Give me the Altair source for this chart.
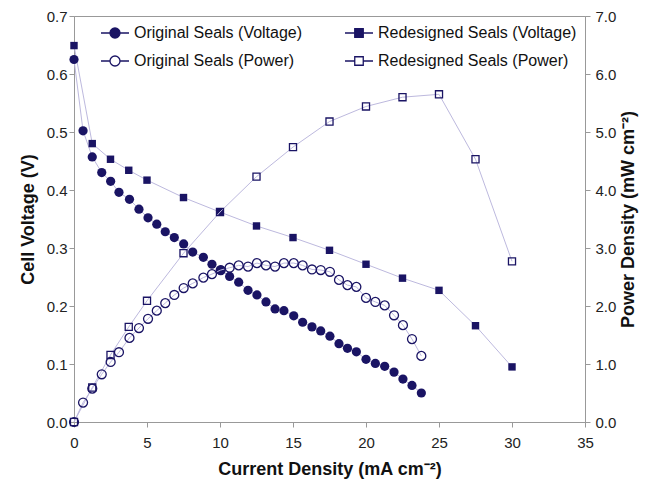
import altair as alt
import pandas as pd

# ---- data ----
orig_x = [0, 0.62, 1.25, 1.90, 2.51, 3.08, 3.80, 4.45, 5.07, 5.67, 6.25, 6.87, 7.51, 8.13,
          8.86, 9.45, 10.05, 10.66, 11.28, 11.92, 12.53, 13.15, 13.77, 14.38, 15.05, 15.66,
          16.30, 16.90, 17.53, 18.15, 18.73, 19.34, 20.00, 20.64, 21.28, 21.92, 22.53, 23.15, 23.79]
orig_v = [0.625, 0.502, 0.457, 0.430, 0.415, 0.396, 0.384, 0.367, 0.352, 0.341, 0.328, 0.318,
          0.307, 0.293, 0.284, 0.272, 0.262, 0.251, 0.241, 0.227, 0.219, 0.207, 0.195, 0.192,
          0.183, 0.172, 0.164, 0.157, 0.148, 0.135, 0.127, 0.121, 0.108, 0.101, 0.096, 0.086,
          0.074, 0.063, 0.050]
orig_p = [0, 0.335, 0.576, 0.823, 1.035, 1.203, 1.45, 1.62, 1.78, 1.92, 2.05, 2.19, 2.31, 2.39,
          2.49, 2.55, 2.62, 2.66, 2.70, 2.68, 2.74, 2.70, 2.68, 2.74, 2.74, 2.70, 2.63, 2.62,
          2.59, 2.45, 2.36, 2.33, 2.14, 2.07, 2.01, 1.84, 1.67, 1.43, 1.14]

red_x = [0, 1.25, 2.5, 3.75, 5, 7.5, 10, 12.5, 15, 17.5, 20, 22.5, 25, 27.5, 30]
red_v = [0.649, 0.480, 0.453, 0.434, 0.417, 0.387, 0.362, 0.338, 0.318, 0.296, 0.272, 0.248,
         0.227, 0.166, 0.095]
red_p = [0, 0.594, 1.156, 1.64, 2.09, 2.91, 3.62, 4.23, 4.74, 5.18, 5.44, 5.60, 5.65, 4.53, 2.77]

series_names = ["Original Seals (Voltage)", "Redesigned Seals (Voltage)",
                "Original Seals (Power)", "Redesigned Seals (Power)"]

NAVY = "#1a1464"
LAV = "#bdb9de"
FONT = "Liberation Sans"

df_v = pd.DataFrame({
    "x": orig_x + red_x,
    "val": orig_v + red_v,
    "series": [series_names[0]] * len(orig_x) + [series_names[1]] * len(red_x),
})
df_p = pd.DataFrame({
    "x": orig_x + red_x,
    "val": orig_p + red_p,
    "series": [series_names[2]] * len(orig_x) + [series_names[3]] * len(red_x),
})

x_enc = alt.X("x:Q", scale=alt.Scale(domain=[0, 35], nice=False),
              axis=alt.Axis(values=list(range(0, 36, 5)), title="Current Density (mA cm⁻²)",
                            labelFlush=False, labelPadding=8, titlePadding=10))

yv_enc = alt.Y("val:Q", scale=alt.Scale(domain=[0, 0.7], nice=False),
               axis=alt.Axis(values=[i / 10 for i in range(8)], format=".1f",
                             title="Cell Voltage (V)", orient="left", titlePadding=9))
yp_enc = alt.Y("val:Q", scale=alt.Scale(domain=[0, 7], nice=False),
               axis=alt.Axis(values=list(range(8)), format=".1f",
                             title="Power Density (mW cm⁻²)", orient="right",
                             titleAngle=270, titleBaseline="top",
                             labelPadding=5, titlePadding=4))

# voltage group
vbase = alt.Chart(df_v).encode(x=x_enc, y=yv_enc)
v_lines = vbase.mark_line(color=LAV, strokeWidth=1).encode(detail="series:N")
v_orig = vbase.transform_filter(alt.datum.series == series_names[0]).mark_point(
    shape="circle", filled=True, color=NAVY, size=85, opacity=1)
v_red = vbase.transform_filter(alt.datum.series == series_names[1]).mark_point(
    shape="square", filled=True, color=NAVY, size=55, opacity=1)

# legend (empty layer, legend built from explicit scale domain)
circ_path = "M-2.8,0H-1M1,0H2.8M1,0A1,1,0,1,1,-1,0A1,1,0,1,1,1,0Z"
sq_path = "M-2.8,0H-0.85M0.85,0H2.8M-0.85,-0.85H0.85V0.85H-0.85Z"
leg = alt.Legend(title=None, orient="none", legendX=33, legendY=9, columns=2,
                 direction="horizontal",
                 symbolSize=100, labelOffset=11, columnPadding=39, rowPadding=12,
                 labelFontSize=16, labelFont=FONT, labelColor="#111", labelLimit=400,
                 symbolStrokeWidth=1.3, padding=0)
legend_layer = alt.Chart(df_v).transform_filter("false").mark_point(
    stroke=NAVY, strokeWidth=1.3, opacity=1, size=100).encode(
    x="x:Q", y="val:Q",
    shape=alt.Shape("series:N", scale=alt.Scale(domain=series_names,
                    range=[circ_path, sq_path, circ_path, sq_path]), legend=leg),
    fill=alt.Fill("series:N", scale=alt.Scale(domain=series_names,
                  range=[NAVY, NAVY, "white", "white"]), legend=leg),
)

vgroup = alt.layer(v_lines, v_orig, v_red, legend_layer)

# power group
pbase = alt.Chart(df_p).encode(x=x_enc, y=yp_enc)
p_lines = pbase.mark_line(color=LAV, strokeWidth=1).encode(detail="series:N")
p_orig = pbase.transform_filter(alt.datum.series == series_names[2]).mark_point(
    shape="circle", filled=False, color=NAVY, size=80, strokeWidth=1.3, opacity=1)
p_red = pbase.transform_filter(alt.datum.series == series_names[3]).mark_point(
    shape="square", filled=False, color=NAVY, size=50, strokeWidth=1.3, opacity=1)
pgroup = alt.layer(p_lines, p_orig, p_red)

chart = alt.layer(vgroup, pgroup).resolve_scale(y="independent").properties(
    width=511, height=406,
    padding={"left": 66, "top": 8, "right": 58, "bottom": 57},
    autosize=alt.AutoSizeParams(type="none"),
).configure_view(stroke="#999", strokeWidth=1).configure_axis(
    grid=False, domainColor="#999", tickColor="#999", tickSize=5,
    labelFont=FONT, labelFontSize=15, labelColor="#222",
    titleFont=FONT, titleFontSize=18, titleFontWeight="bold", titleColor="#111",
)

chart.save("out.html", embed_options={"renderer": "svg", "actions": False})
